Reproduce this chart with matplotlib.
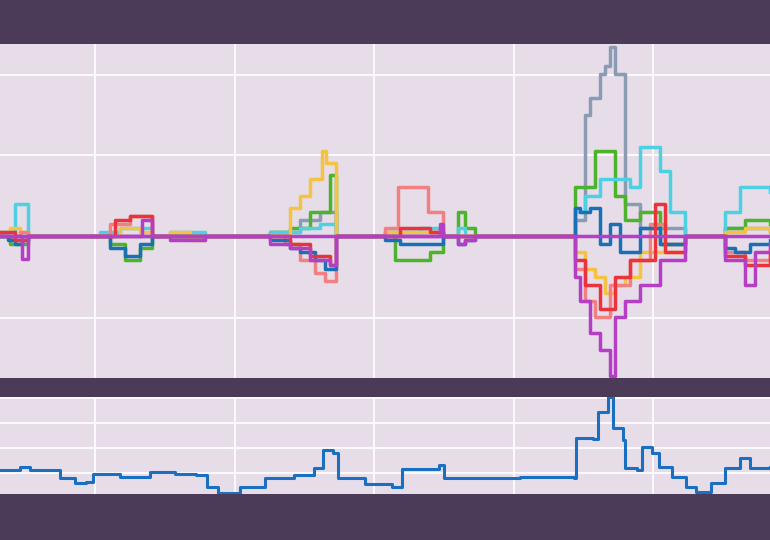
import matplotlib
matplotlib.use("Agg")
import matplotlib.pyplot as plt

BG = "#4B3A58"
FACE = "#E6DDE9"

# top panel series: (x, value) breakpoints; value 0 = baseline
x_blue = [0,8,15,22,28,100,110,125,140,152,270,290,300,315,325,336,385,400,430,443,458,465,475,575,580,590,600,610,620,640,660,685,725,735,750,770]
y_blue = [0,-0.05,-0.1,-0.05,0,0,-0.15,-0.25,-0.1,0,-0.05,-0.15,-0.2,-0.3,-0.4,0,-0.05,-0.1,-0.1,0,-0.1,-0.05,0,0.35,0.3,0.35,-0.1,0.15,-0.2,0.1,-0.1,0,-0.15,-0.2,-0.1,-0.05]
x_orange = [0,10,20,28,100,120,140,152,170,190,205,270,290,300,310,322,326,336,385,420,443,575,585,595,605,615,625,640,685,725,745,770]
y_orange = [0.05,0.1,0.05,0,0,0.1,0.05,0,0.05,-0.05,0,0,0.35,0.5,0.7,1.05,0.9,0,0.05,0.05,0,-0.2,-0.4,-0.5,-0.7,-0.6,-0.5,-0.2,0,0.05,0.1,0.05]
x_green = [0,10,28,100,110,125,140,152,270,290,310,330,336,385,395,430,443,458,465,475,575,580,595,615,625,640,660,685,725,745,770]
y_green = [0,-0.1,0,0,-0.1,-0.3,-0.15,0,0.05,0.1,0.3,0.75,0,0,-0.3,-0.2,0,0.3,0.1,0,0.6,0.6,1.05,0.5,0.2,0.3,-0.1,0,0.1,0.2,0.15]
x_red = [0,15,28,100,115,130,152,270,290,310,330,336,385,400,430,443,575,585,600,615,630,655,665,685,725,745,770]
y_red = [0.05,-0.05,0,0,0.2,0.25,0,0,-0.1,-0.25,-0.35,0,0,0.1,0.05,0,-0.3,-0.6,-0.9,-0.5,-0.3,0.4,-0.2,0,-0.25,-0.35,-0.2]
x_pink = [0,20,28,100,110,130,152,270,285,300,315,325,336,385,398,428,443,575,585,595,610,630,650,665,685,725,745,770]
y_pink = [0,0.05,0,0,0.15,0.25,0,0,-0.1,-0.3,-0.45,-0.55,0,0.1,0.6,0.3,0,-0.4,-0.8,-1.0,-0.6,-0.3,0.15,-0.1,0,-0.2,-0.3,-0.15]
x_cyan = [0,15,28,100,120,152,170,205,270,300,320,336,385,420,443,458,465,575,585,600,630,640,660,670,685,725,740,770]
y_cyan = [0.05,0.4,0,0.05,0.1,0,0.05,0,0.05,0.1,0.15,0,0.05,0.1,0,0.1,0,0.3,0.5,0.7,0.6,1.1,0.8,0.3,0,0.3,0.6,0.55]
x_gray = [0,28,100,152,270,300,320,336,385,443,575,585,590,600,605,610,615,625,640,685,725,770]
y_gray = [0,0,0,0,0.05,0.2,0.3,0,0.05,0,0.2,1.5,1.7,2.0,2.1,2.33,2.0,0.4,0.1,0,0.1,0.05]
x_purple = [0,22,28,100,142,152,170,205,270,290,310,330,336,385,440,443,458,465,475,575,580,590,600,610,615,625,640,660,685,725,745,755,770]
y_purple = [0,-0.28,0,0,0.2,0,-0.05,0,-0.1,-0.15,-0.3,-0.35,0,0,0.15,0,-0.1,-0.05,0,-0.5,-0.8,-1.2,-1.4,-1.72,-1.0,-0.8,-0.6,-0.3,0,-0.3,-0.6,-0.2,-0.1]

# bottom panel series
x_bot = [0,20,27,30,60,75,86,93,120,150,175,196,207,218,240,265,294,314,323,333,338,365,392,402,436,439,444,520,574,576,593,598,608,613,623,625,637,642,652,659,672,686,696,711,725,740,750,770]
y_bot = [0.96,1.08,1.1,0.96,0.64,0.44,0.5,0.8,0.7,0.9,0.8,0.76,0.3,0.04,0.28,0.64,0.76,1.04,1.76,1.64,0.64,0.4,0.28,1.0,1.0,1.16,0.64,0.7,0.64,2.24,2.2,3.28,3.88,2.64,2.16,1.04,0.96,1.88,1.64,1.08,0.68,0.28,0.08,0.44,1.04,1.44,1.04,1.08]

series = [
    (x_gray, y_gray, "#8C9BB4"),
    (x_green, y_green, "#4DB32D"),
    (x_cyan, y_cyan, "#4DD0E1"),
    (x_orange, y_orange, "#F5C242"),
    (x_pink, y_pink, "#F28080"),
    (x_blue, y_blue, "#1A6FB5"),
    (x_red, y_red, "#E8343A"),
    (x_purple, y_purple, "#B43FC4"),
]

fig = plt.figure(figsize=(7.7, 5.4), dpi=100, facecolor=BG)
ax1 = fig.add_axes([0, 1 - 378/540, 1, (378-44)/540])
ax2 = fig.add_axes([0, 1 - 494/540, 1, (494-397)/540])

for ax in (ax1, ax2):
    ax.set_facecolor(FACE)
    ax.set_xlim(0, 770)
    ax.set_xticks([95, 235, 374, 514, 653])
    ax.grid(True, color="white", linewidth=1.2)
    ax.set_axisbelow(True)
    ax.tick_params(length=0, labelbottom=False, labelleft=False)
    for s in ax.spines.values():
        s.set_visible(False)

for xs, ys, c in series:
    ax1.plot(xs, ys, drawstyle="steps-post", color=c, linewidth=2.5)
ax1.plot([0, 770], [0, 0], color="#B43FC4", linewidth=2.5)
ax1.set_ylim(-1.75, 2.37)
ax1.set_yticks([-1.01, 0, 1, 1.99])

ax2.plot(x_bot, y_bot, drawstyle="steps-post", color="#1A6FC0", linewidth=2.2)
ax2.set_ylim(0, 3.88)
ax2.set_yticks([0.84, 1.84, 2.84, 3.84])

fig.savefig("out.png", dpi=100, facecolor=BG)
